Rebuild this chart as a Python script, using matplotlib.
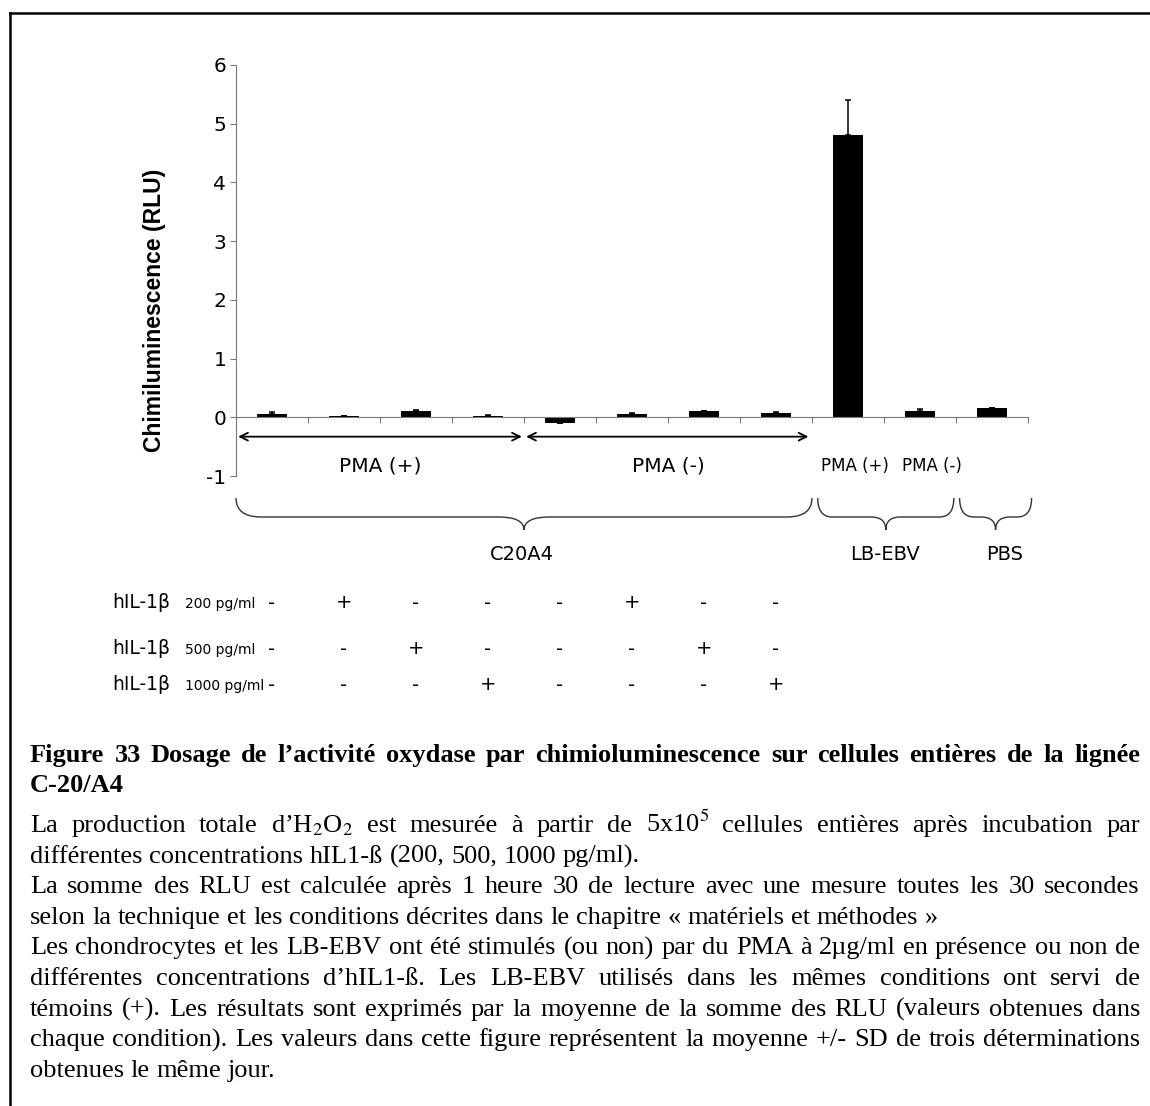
import matplotlib
matplotlib.use("Agg")
import matplotlib.pyplot as plt
from matplotlib.path import Path
from matplotlib.patches import PathPatch
from matplotlib.lines import Line2D
import matplotlib.transforms as mtransforms

# ---------------- data ----------------
values = [0.06, 0.02, 0.10, 0.02, -0.09, 0.05, 0.10, 0.08, 4.80, 0.11, 0.15]
errors = [0.03, 0.01, 0.02, 0.02, 0.00, 0.02, 0.01, 0.01, 0.60, 0.03, 0.00]
yticks = [-1, 0, 1, 2, 3, 4, 5, 6]
pma_groups = ["PMA (+)", "PMA (-)"]
ebv_labels = ["PMA (+)", "PMA (-)"]
cell_groups = ["C20A4", "LB-EBV", "PBS"]
row_labels = ["200 pg/ml", "500 pg/ml", "1000 pg/ml"]
row_marks = [
    ["-", "+", "-", "-", "-", "+", "-", "-"],
    ["-", "-", "+", "-", "-", "-", "+", "-"],
    ["-", "-", "-", "+", "-", "-", "-", "+"],
]
ylabel = "Chimiluminescence (RLU)"

caption_title = ["Figure 33 Dosage de l’activité oxydase par chimioluminescence sur cellules entières de la lignée",
                 "C-20/A4"]
caption_lines = [
    ("La production totale d’H$_2$O$_2$ est mesurée à partir de 5x10$^5$ cellules entières après incubation par", True),
    ("différentes concentrations hIL1-ß (200, 500, 1000 pg/ml).", False),
    ("La somme des RLU est calculée après 1 heure 30 de lecture avec une mesure toutes les 30 secondes", True),
    ("selon la technique et les conditions décrites dans  le chapitre « matériels et méthodes »", False),
    ("Les chondrocytes et les LB-EBV ont été stimulés (ou non) par du PMA à 2µg/ml en présence ou non de", True),
    ("différentes concentrations d’hIL1-ß. Les LB-EBV utilisés dans les mêmes conditions ont servi de", True),
    ("témoins (+). Les résultats sont exprimés par la moyenne de la somme des RLU (valeurs obtenues dans", True),
    ("chaque condition). Les valeurs dans cette figure représentent la moyenne +/- SD de trois déterminations", True),
    ("obtenues le même jour.", False),
]

# ---------------- figure ----------------
W, H = 1150, 1106
plt.rcParams['font.family'] = ['DejaVu Sans']
plt.rcParams['mathtext.fontset'] = 'stix'
fig = plt.figure(figsize=(W / 100, H / 100), dpi=100)

def fx(px):
    return px / W

def fy(py):
    return 1 - py / H

ax = fig.add_axes([fx(236), fy(476), fx(1028) - fx(236), fy(65) - fy(476)])
n = len(values)
xs = [i + 0.5 for i in range(n)]
ax.bar(xs, values, width=0.42, color='black', zorder=2)
ax.errorbar(xs, values, yerr=[[0] * n, errors], fmt='none', ecolor='black',
            elinewidth=1.1, capsize=2.5, capthick=1.1, zorder=3)
ax.set_xlim(0, n)
ax.set_ylim(-1, 6)
ax.set_yticks(yticks)
ax.set_yticklabels([str(t) for t in yticks], fontsize=14.5)
ax.set_xticks(range(1, n + 1))
ax.set_xticklabels([])
spine_col = '#7a7a7a'
for s in ['top', 'right']:
    ax.spines[s].set_visible(False)
ax.spines['bottom'].set_position(('data', 0))
ax.spines['bottom'].set_color(spine_col)
ax.spines['left'].set_color(spine_col)
ax.tick_params(axis='y', direction='out', length=4, color=spine_col, pad=3)
ax.tick_params(axis='x', direction='out', length=4, color=spine_col)
ax.patch.set_alpha(0)
fig.text(fx(155), fy(310), ylabel, rotation=90, ha='center', va='center',
         fontsize=16.5, fontweight='bold', family=['Liberation Sans', 'DejaVu Sans'])

# arrows for PMA groups
arrow_y = -0.33
for a, b in [(0.03, 3.97), (4.03, 7.95)]:
    ax.annotate('', xy=(b, arrow_y), xytext=(a, arrow_y), xycoords='data',
                arrowprops=dict(arrowstyle='<->', color='black', lw=1.3,
                                shrinkA=0, shrinkB=0, mutation_scale=14),
                annotation_clip=False)
for g, lab in enumerate(pma_groups):
    ax.text(2 + 4 * g, -0.83, lab, ha='center', va='center', fontsize=14.5, clip_on=False)
for k, lab in enumerate(ebv_labels):
    ax.text(8.6 + 1.07 * k, -0.83, lab, ha='center', va='center', fontsize=12, clip_on=False)

# braces (x in data, y in figure)
trans = mtransforms.blended_transform_factory(ax.transData, fig.transFigure)

def brace(x0, x1, ytop, ybot, ytip, dx):
    xm = (x0 + x1) / 2
    verts = [(x0, ytop), (x0, ybot), (x0 + dx, ybot),
             (xm - dx, ybot), (xm, ybot), (xm, ytip),
             (xm, ybot), (xm + dx, ybot),
             (x1 - dx, ybot), (x1, ybot), (x1, ytop)]
    codes = [Path.MOVETO, Path.CURVE3, Path.CURVE3,
             Path.LINETO, Path.CURVE3, Path.CURVE3,
             Path.CURVE3, Path.CURVE3,
             Path.LINETO, Path.CURVE3, Path.CURVE3]
    p = PathPatch(Path(verts, codes), transform=trans, fill=False,
                  edgecolor='#333333', lw=1.0, clip_on=False)
    fig.add_artist(p)

spans = [(0.0, 8.0), (8.08, 9.97), (10.05, 11.05)]
label_x = [3.97, 9.02, 10.68]
for (a, b), lab, lx in zip(spans, cell_groups, label_x):
    brace(a, b, fy(498), fy(517), fy(530), 0.35 if b - a > 3 else 0.2)
    fig.text(lx, fy(554), lab, transform=trans, ha='center', va='center',
             fontsize=14)

# hIL-1beta rows
row_y = [603, 649, 685]
for r, (lab, marks) in enumerate(zip(row_labels, row_marks)):
    y = fy(row_y[r])
    fig.text(fx(112), y, "hIL-1β", fontsize=13.5, va='center', ha='left')
    fig.text(fx(185), y - 0.001, lab, fontsize=10, va='center', ha='left')
    for i, m in enumerate(marks):
        fig.text(xs[i], y, m, transform=trans, ha='center', va='center',
                 fontsize=14)

# border (top and left)
fig.add_artist(Line2D([fx(10), fx(10)], [fy(13), 0], color='black', lw=1.8,
                      transform=fig.transFigure))
fig.add_artist(Line2D([fx(10), 1], [fy(13), fy(13)], color='black', lw=1.8,
                      transform=fig.transFigure))

# caption
renderer = fig.canvas.get_renderer()
X0, X1 = 30, 1140
CAP_FS = 19.0

def place_line(text, ypix, justify, bold=False):
    words = [w for w in text.split(' ') if w != '']
    kw = dict(fontsize=CAP_FS, family=['Liberation Serif', 'DejaVu Serif'],
              fontweight='bold' if bold else 'normal', va='baseline', ha='left')
    objs = [fig.text(0, fy(ypix), w, **kw) for w in words]
    widths = [o.get_window_extent(renderer).width for o in objs]
    ta = fig.text(0, 0, 'a a', **kw)
    tb = fig.text(0, 0, 'aa', **kw)
    space = ta.get_window_extent(renderer).width - tb.get_window_extent(renderer).width
    ta.remove(); tb.remove()
    if justify and len(words) > 1:
        gap = (X1 - X0 - sum(widths)) / (len(words) - 1)
    else:
        gap = space
    x = X0
    for o, w in zip(objs, widths):
        o.set_x(fx(x))
        x += w + gap

place_line(caption_title[0], 762, True, bold=True)
place_line(caption_title[1], 792, False, bold=True)
for k, (line, just) in enumerate(caption_lines):
    place_line(line, 832 + 30.6 * k, just)

fig.savefig('out.png', dpi=100)
